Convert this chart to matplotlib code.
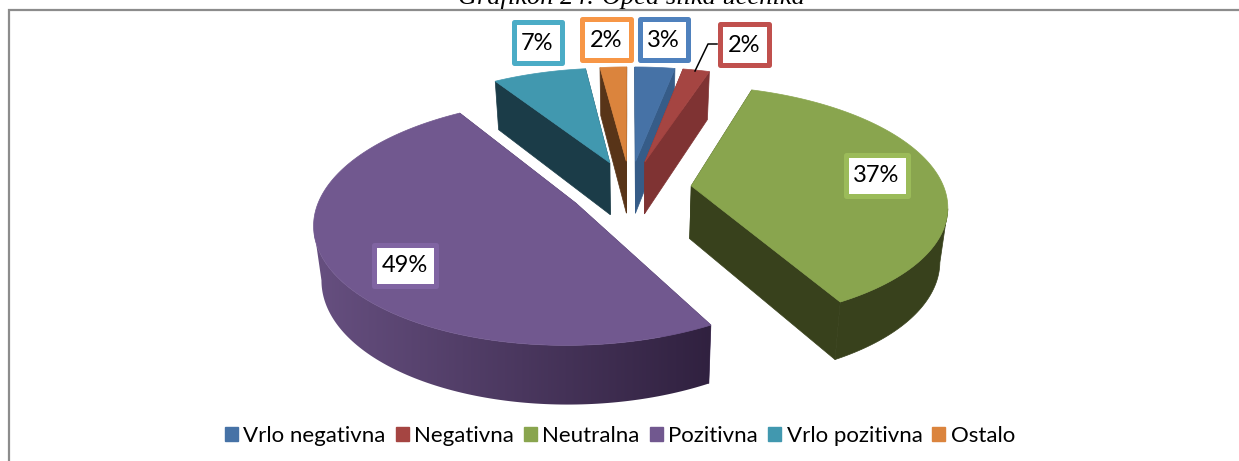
import numpy as np
import matplotlib
matplotlib.use('Agg')
import matplotlib.pyplot as plt
from matplotlib.patches import Polygon, Rectangle, Patch

# chart data
categories = ['Vrlo negativna', 'Negativna', 'Neutralna', 'Pozitivna', 'Vrlo pozitivna', 'Ostalo']
values = [3, 2, 37, 49, 7, 2]
labels = ['3%', '2%', '37%', '49%', '7%', '2%']
title = 'Grafikon 24: Opća slika učenika'

top_colors = ['#4672A6', '#A54542', '#89A54E', '#71588F', '#4198AF', '#DB843D']
side_colors = ['#365C88', '#7F3333', '#38411C', '#4A3760', '#1B3C48', '#583418']
box_colors = ['#4F81BD', '#C0504D', '#9BBB59', '#8064A2', '#4BACC6', '#F79646']

# label boxes in pixels: left, top, right, bottom
label_boxes = [(637, 17, 690, 63), (717, 22, 771, 68), (843, 152, 910, 198),
               (371, 242, 438, 288), (511, 20, 564, 66), (579, 17, 633, 63)]

W, H = 1239, 461
fig = plt.figure(figsize=(W / 100, H / 100), dpi=100)
ax = fig.add_axes([0, 0, 1, 1])
ax.set_xlim(0, W)
ax.set_ylim(H, 0)
ax.axis('off')

# pie projection
x0, y0 = 630, 188.5
a, b, k = 253, 116, 0.15
explode = 0.244
depth = 53


def project(px, py):
    w = 1 + k * py
    return x0 + a * px / w, y0 - b * py / w, w


def drop(sx, sy, w):
    # point under the top face
    return x0 + (sx - x0) * 0.975, sy + depth / w ** 0.6


def draw_slice(start, end, top, side, gradient=None):
    mid = np.radians((start + end) / 2)
    ox, oy = explode * np.sin(mid), explode * np.cos(mid)
    th = np.radians(np.linspace(start, end, max(int(end - start), 2) + 1))
    rim = [project(ox + np.sin(t), oy + np.cos(t)) for t in th]
    tip = project(ox, oy)

    for p in [rim[0], rim[-1]]:
        pts = [tip[:2], p[:2], drop(*p), drop(*tip)]
        ax.add_patch(Polygon(pts, closed=True, fc=side, ec=side, lw=0.5, zorder=2))

    # only the front part of the rim shows, where x runs right to left
    front = [i for i in range(len(rim) - 1) if rim[i + 1][0] < rim[i][0]]
    if front:
        arc = rim[front[0]:front[-1] + 2]
        rim_pts = [r[:2] for r in arc] + [drop(*r) for r in arc[::-1]]
        if gradient is None:
            ax.add_patch(Polygon(rim_pts, closed=True, fc=side, ec=side, lw=0.5, zorder=2))
        else:
            # purple side gets darker towards the right
            poly = Polygon(rim_pts, closed=True, fc='none', ec='none')
            ax.add_patch(poly)
            xs = [c[0] for c in rim_pts]
            ys = [c[1] for c in rim_pts]
            ramp = np.linspace(gradient[0], gradient[1], 64).reshape(1, 64, 3)
            im = ax.imshow(ramp, extent=(min(xs), max(xs), max(ys), min(ys)), aspect='auto', zorder=2,
                           interpolation='bilinear')
            im.set_clip_path(poly)
            ax.set_xlim(0, W)
            ax.set_ylim(H, 0)

    outline = [tip[:2]] + [r[:2] for r in rim]
    ax.add_patch(Polygon(outline, closed=True, fc=top, ec=top, lw=0.5, zorder=2))


edges = np.concatenate([[0], np.cumsum(values)]) * 3.6
for i in [4, 5, 0, 1, 2, 3]:
    if i == 3:
        draw_slice(edges[i], edges[i + 1], top_colors[i], side_colors[i],
                   gradient=((0.40, 0.31, 0.50), (0.19, 0.13, 0.25)))
    else:
        draw_slice(edges[i], edges[i + 1], top_colors[i], side_colors[i])

# leader line of the small red slice
ax.plot([695, 708, 717], [71, 44, 44], color='black', lw=1.1, zorder=3)

# data labels
for lab, box, col in zip(labels, label_boxes, box_colors):
    l, t, r, bt = box
    ax.add_patch(Rectangle((l + 2.5, t + 2.5), r - l - 5, bt - t - 5, fc='white', ec=col, lw=3.6,
                           joinstyle='round', zorder=4))
    ax.text((l + r) / 2, (t + bt) / 2 + 0.5, lab, ha='center', va='center', fontsize=17,
            family='Lato', color='black', zorder=5)

# frame and cropped caption
ax.plot([8.5, 8.5, W], [H, 10, 10], color='#8C8C8C', lw=1.6, zorder=1, solid_joinstyle='miter')
ax.text(631, 4, title, ha='center', va='baseline', fontsize=19, style='italic',
        family='Liberation Serif', color='black', zorder=1)

handles = [Patch(fc=c, ec=c) for c in top_colors]
ax.legend(handles, categories, loc='center', bbox_to_anchor=(620 / W, 1 - 436 / H), ncol=6, frameon=False,
          prop={'family': 'Lato', 'size': 16}, handlelength=0.58, handleheight=0.58,
          handletextpad=0.25, columnspacing=0.45, borderpad=0)

plt.savefig('out.png', dpi=100)
